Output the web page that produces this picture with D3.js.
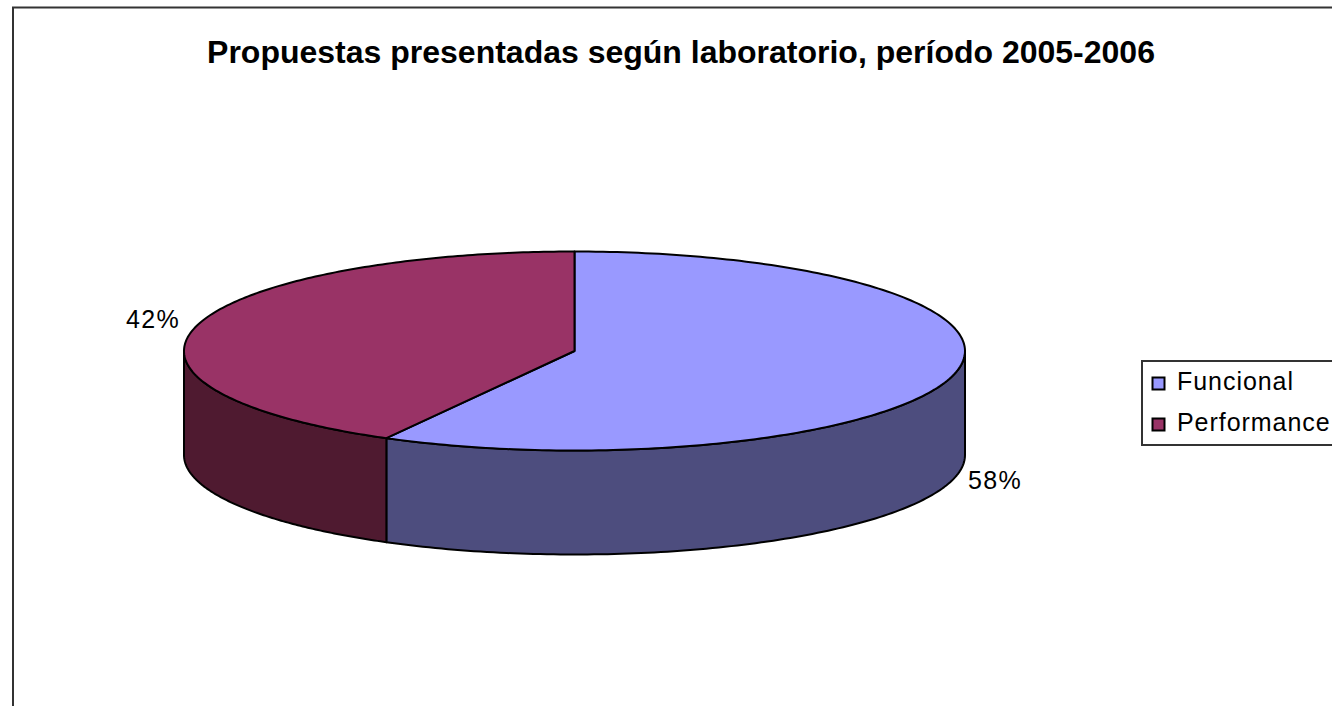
<!DOCTYPE html>
<html><head><meta charset="utf-8">
<script src="https://cdn.jsdelivr.net/npm/d3@7"></script>
<style>html,body{margin:0;padding:0;background:#fff;overflow:hidden}</style>
</head><body>
<svg id="c" width="1332" height="706"></svg>
<script>
const categories = ["Funcional", "Performance"];
const values = [58, 42];
const labels = ["58%", "42%"];
const topColors = ["#9999FF", "#993366"];
const sideColors = ["#4D4D7E", "#4F1A30"];
const title = "Propuestas presentadas según laboratorio, período 2005-2006";

const svg = d3.select("#c");
const W = 1332, H = 706;
svg.append("rect").attr("x",0).attr("y",0).attr("width",W).attr("height",H).attr("fill","#fff");
// frame
svg.append("rect").attr("x",13).attr("y",7.5).attr("width",1340).attr("height",720)
  .attr("fill","none").attr("stroke","#333").attr("stroke-width",2);

svg.append("text").attr("x",681).attr("y",63).attr("text-anchor","middle")
  .attr("font-family","Liberation Sans, Arial, sans-serif").attr("font-weight","bold")
  .attr("font-size",32).attr("fill","#000").text(title);

const cx = 574.5, cy = 351, rx = 390.5, ry = 99.5, depth = 104;
const pie = d3.pie().sort(null).value(d => d)(values);
const sx = d3.scaleLinear().domain([-1,1]).range([cx - rx, cx + rx]);
const sy = d3.scaleLinear().domain([-1,1]).range([cy - ry, cy + ry]);
const pt = (a, dz=0) => [sx(Math.sin(a)), sy(-Math.cos(a)) + dz];

const g = svg.append("g");
// side walls (visible front: angles between PI/2 and 3PI/2)
pie.forEach((p, i) => {
  const a0 = Math.max(p.startAngle, Math.PI/2), a1 = Math.min(p.endAngle, 3*Math.PI/2);
  if (a1 <= a0) return;
  const n = 120, pts = [];
  for (let k = 0; k <= n; k++) pts.push(pt(a0 + (a1-a0)*k/n));
  for (let k = n; k >= 0; k--) pts.push(pt(a0 + (a1-a0)*k/n, depth));
  g.append("path").attr("d", d3.line()(pts) + "Z")
    .attr("fill", sideColors[i]).attr("stroke","#000").attr("stroke-width",2).attr("stroke-linejoin","round");
});
// tops
pie.forEach((p, i) => {
  const n = 200, pts = [[cx, cy]];
  for (let k = 0; k <= n; k++) pts.push(pt(p.startAngle + (p.endAngle-p.startAngle)*k/n));
  g.append("path").attr("d", d3.line()(pts) + "Z")
    .attr("fill", topColors[i]).attr("stroke","#000").attr("stroke-width",2).attr("stroke-linejoin","round");
});

// data labels
const lf = "Liberation Sans, Arial, sans-serif";
svg.append("text").attr("x",968).attr("y",489).attr("font-family",lf).attr("font-size",25)
  .attr("letter-spacing",1.3).text(labels[0]);
svg.append("text").attr("x",180).attr("y",328).attr("text-anchor","end").attr("font-family",lf).attr("font-size",25)
  .attr("letter-spacing",1.3).text(labels[1]);

// legend
const lg = svg.append("g");
lg.append("rect").attr("x",1142).attr("y",361).attr("width",200).attr("height",84)
  .attr("fill","#fff").attr("stroke","#333").attr("stroke-width",2);
const ly = d3.scalePoint().domain(categories).range([390, 431]);
categories.forEach((c, i) => {
  lg.append("rect").attr("x",1152.5).attr("y",ly(c)-12.5).attr("width",12).attr("height",12)
    .attr("fill",topColors[i]).attr("stroke","#000").attr("stroke-width",2);
  lg.append("text").attr("x",1177).attr("y",ly(c)).attr("font-family",lf).attr("font-size",25)
    .attr("letter-spacing", 0.95).text(c);
});
</script>
</body></html>
